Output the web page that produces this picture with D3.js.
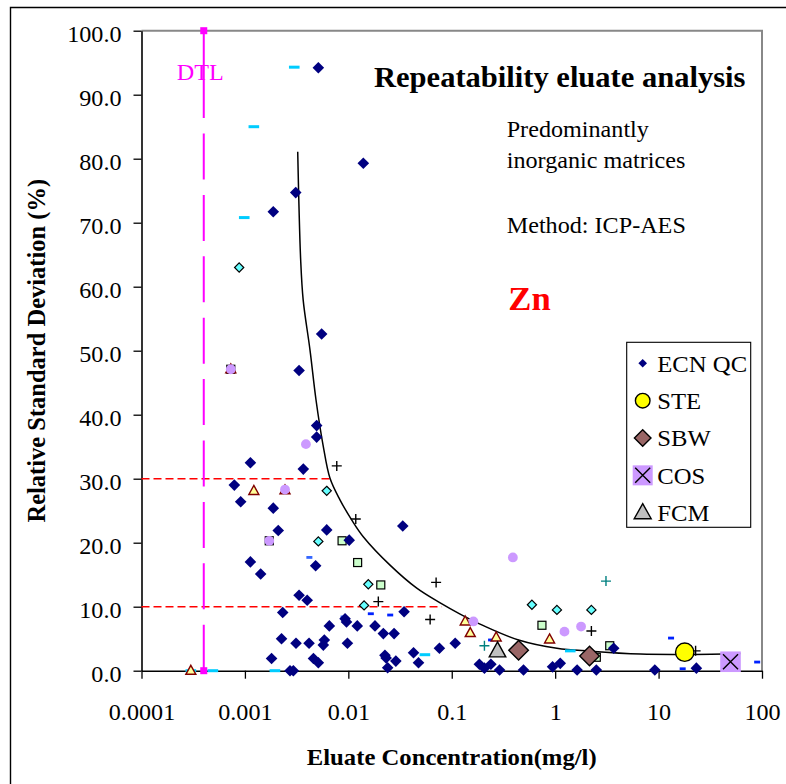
<!DOCTYPE html>
<html>
<head>
<meta charset="utf-8">
<script src="https://cdn.jsdelivr.net/npm/d3@7"></script>
<style>
  html, body { margin: 0; padding: 0; background: #fff; }
  svg { display: block; }
  text { font-family: "Liberation Serif", "Times New Roman", serif; }
</style>
</head>
<body>
<svg id="chart" width="786" height="784"></svg>
<script>
// ---------------- DATA ----------------
const xTicks = [0.0001, 0.001, 0.01, 0.1, 1, 10, 100];
const xTickLabels = ["0.0001", "0.001", "0.01", "0.1", "1", "10", "100"];
const yTicks = [0, 10, 20, 30, 40, 50, 60, 70, 80, 90, 100];

// legend series
const ecnQC = [
  [0.00513, 94.2], [0.01396, 79.3], [0.0031, 74.7], [0.00188, 71.7], [0.00552, 52.6],
  [0.00334, 46.9], [0.00494, 38.3], [0.00494, 36.5], [0.00113, 32.5], [0.00367, 31.5],
  [0.00079, 29.0], [0.00091, 26.4], [0.00188, 25.4], [0.00618, 22.0], [0.0021, 21.9],
  [0.0102, 20.4], [0.0336, 22.6], [0.00113, 17.0], [0.00483, 16.4], [0.00142, 15.1],
  [0.00334, 11.8], [0.0040, 11.0], [0.00232, 9.1], [0.0346, 9.2], [0.0093, 8.1],
  [0.0096, 7.6], [0.00655, 7.0], [0.0122, 7.0], [0.0181, 7.0], [0.0218, 5.8],
  [0.0277, 5.8], [0.00226, 5.0], [0.00312, 4.3], [0.00417, 4.3], [0.00586, 4.8],
  [0.00573, 4.0], [0.0098, 4.3], [0.00181, 1.9], [0.0046, 1.9], [0.00513, 1.25],
  [0.0226, 2.4], [0.0232, 2.0], [0.0288, 1.5], [0.024, 0.45], [0.0427, 2.8],
  [0.0477, 1.25], [0.076, 3.5], [0.108, 4.3], [0.00273, 0], [0.00294, 0],
  [0.185, 1.0], [0.207, 0.4], [0.239, 1.0], [0.29, 0.1], [0.494, 0.1],
  [0.944, 0.6], [1.12, 1.15], [1.63, 0.1], [2.5, 0.1], [3.68, 3.5],
  [9.2, 0.1], [23.2, 0.4]
];
const ste = [[17.9, 2.9]];
const sbw = [[0.443, 3.2], [2.15, 2.3]];
const cos = [[49.6, 1.4]];
const fcm = [[0.277, 3.1]];

// other (unlabelled) series
const cyanDash = [[0.003, 94.3], [0.00122, 85.0], [0.000985, 70.8], [0.0003, 0], [0.00049, 0],
  [0.00195, 0], [0.055, 2.5], [1.4, 3.1]];
const lightBlueDash = [[0.0042, 17.7], [0.009, 8.4]];
const blueDash = [[0.0165, 8.9], [0.0254, 8.7], [0.24, 4.8], [13.2, 5.1], [17.1, 0.3], [89.8, 1.35]];
const lavenderCircle = [[0.00073, 47.1], [0.00389, 35.4], [0.00244, 28.3], [0.00172, 20.3],
  [0.39, 17.7], [0.162, 7.7], [1.23, 6.1], [1.78, 6.9]];
const cyanDiamond = [[0.00088, 63.0], [0.00618, 28.1], [0.00513, 20.2], [0.0156, 13.5],
  [0.0142, 10.2], [0.596, 10.3], [1.04, 9.5], [2.24, 9.5]];
const greenSquare = [[0.00073, 47.1], [0.00172, 20.3], [0.0087, 20.3], [0.0123, 16.9],
  [0.0206, 13.4], [0.745, 7.1], [3.37, 3.9], [2.5, 2.1]];
const yellowTriangle = [[0.0003, 0], [0.00122, 28.1], [0.00244, 28.2], [0.00073, 47.1],
  [0.135, 7.7], [0.151, 5.9], [0.269, 5.2], [0.883, 4.9]];
const blackPlus = [[0.00773, 32.0], [0.0118, 23.7], [0.0195, 10.8], [0.0706, 13.8],
  [0.0618, 8.0], [2.24, 6.2], [22.8, 3.1]];
const tealPlus = [[0.207, 3.9], [3.1, 14.0]];

// reference lines
const dtlLine = [[0.0004, 0], [0.0004, 100]];
const limit30 = [[0.0001, 30], [0.0067, 30]];
const limit10 = [[0.0001, 10], [0.080, 10]];
// fitted curve
const fitCurve = [[0.00324, 81.1], [0.00346, 64.2], [0.00366, 57.9], [0.00426, 50.1],
  [0.00487, 42.3], [0.00569, 35.3], [0.00665, 30.06], [0.0083, 26.7], [0.01084, 23.5],
  [0.014, 20.9], [0.0253, 16.5], [0.0459, 12.9], [0.0773, 10.6], [0.1205, 8.85],
  [0.2, 7.08], [0.443, 4.8], [1.04, 3.5], [2.19, 3.05], [6.67, 2.6], [20.3, 2.55], [61.7, 2.7]];

const legendItems = ["ECN QC", "STE", "SBW", "COS", "FCM"];

// ---------------- CHART ----------------
const svg = d3.select("#chart");
const K = 1.05; // slight horizontal glyph stretch of the original
function stretch(sel, k) {
  sel.each(function () {
    const w = this.getComputedTextLength();
    this.setAttribute("textLength", w * k);
    this.setAttribute("lengthAdjust", "spacingAndGlyphs");
  });
}

const x = d3.scaleLog().domain([0.0001, 100]).range([141.5, 762]);
const y = d3.scaleLinear().domain([0, 100]).range([670.7, 30.7]);

// outer frame
svg.append("rect").attr("width", 786).attr("height", 784).attr("fill", "#fff");
svg.append("path").attr("d", "M10.5,790V7.5H790").attr("fill", "none").attr("stroke", "#000").attr("stroke-width", 1.4);

// plot border (top/right gray)
svg.append("path")
  .attr("d", `M${x(0.0001)},${y(100)}H${x(100)}V${y(0)}`)
  .attr("fill", "none").attr("stroke", "#888").attr("stroke-width", 2);

// axes
const yAxis = svg.append("g").attr("transform", `translate(${x(0.0001)},0)`)
  .call(d3.axisLeft(y).tickValues(yTicks).tickSize(8).tickSizeOuter(0).tickPadding(12)
    .tickFormat(d3.format(".1f")));
const xAxis = svg.append("g").attr("transform", `translate(0,${y(0)})`)
  .call(d3.axisBottom(x).tickValues(xTicks).tickSize(8).tickSizeOuter(0)
    .tickFormat((d, i) => xTickLabels[i]));
[yAxis, xAxis].forEach(a => {
  a.select(".domain").attr("stroke", "#000").attr("stroke-width", 1.6);
  a.selectAll(".tick line").attr("stroke", "#000").attr("stroke-width", 1.3);
  a.selectAll("text").attr("font-family", "Liberation Serif, Times New Roman, serif")
    .attr("font-size", 23).attr("fill", "#000");
});
yAxis.selectAll("text").attr("dy", "0.47em");
xAxis.selectAll("text").attr("y", 49).attr("dy", 0);
stretch(yAxis.selectAll("text"), K);
stretch(xAxis.selectAll("text"), K);

// axis titles
const xl = svg.append("text").attr("x", (x(0.0001) + x(100)) / 2).attr("y", 765)
  .attr("text-anchor", "middle").attr("font-weight", "bold").attr("font-size", 23.5)
  .text("Eluate Concentration(mg/l)");
stretch(xl, K);
svg.append("text").attr("transform", `translate(45,${(y(0) + y(100)) / 2}) rotate(-90)`)
  .attr("text-anchor", "middle").attr("font-weight", "bold").attr("font-size", 24.5)
  .text("Relative Standard Deviation (%)");

// annotations
const t1 = svg.append("text").attr("x", 374).attr("y", 86.7).attr("font-weight", "bold")
  .attr("font-size", 29.5).text("Repeatability eluate analysis");
stretch(t1, 1.035);
const notes = [["Predominantly", 136.7], ["inorganic matrices", 168.3], ["Method: ICP-AES", 232.7]];
notes.forEach(([s, yy]) => {
  const t = svg.append("text").attr("x", 506.7).attr("y", yy).attr("font-size", 23).text(s);
  stretch(t, K);
});
const zn = svg.append("text").attr("x", 508.3).attr("y", 310).attr("font-weight", "bold")
  .attr("font-size", 33).attr("fill", "#FF0000").text("Zn");
stretch(zn, K);

const line = d3.line().x(d => x(d[0])).y(d => y(d[1]));

// red dashed limits
[limit30, limit10].forEach(L => {
  svg.append("path").attr("d", line(L)).attr("fill", "none").attr("stroke", "#FF0000")
    .attr("stroke-width", 1.6).attr("stroke-dasharray", "8,4");
});

// DTL line
const dash = Array(9).fill("46,15.4").join(",") + ",300,0";
svg.append("path").attr("d", line(dtlLine)).attr("fill", "none").attr("stroke", "#FF00FF")
  .attr("stroke-width", 2).attr("stroke-dasharray", dash);
svg.selectAll(".dtlm").data(dtlLine).join("rect").attr("class", "dtlm")
  .attr("x", d => x(d[0]) - 3.5).attr("y", d => y(d[1]) - 3.5).attr("width", 7).attr("height", 7)
  .attr("fill", "#FF00FF");
const dtl = svg.append("text").attr("x", 176.7).attr("y", 80).attr("font-size", 23)
  .attr("fill", "#FF00FF").text("DTL");
stretch(dtl, K);

// fitted curve
svg.append("path")
  .attr("d", d3.line().x(d => x(d[0])).y(d => y(d[1])).curve(d3.curveCatmullRom.alpha(0.5))(fitCurve))
  .attr("fill", "none").attr("stroke", "#000").attr("stroke-width", 1.5);

// marker helpers
const diamondPath = h => `M0,${-h}L${h},0L0,${h}L${-h},0Z`;
const triPath = (w, h) => `M0,${-h * 0.6}L${w / 2},${h * 0.4}L${-w / 2},${h * 0.4}Z`;
function pts(data, cls) {
  return svg.selectAll("." + cls).data(data).join("g").attr("class", cls)
    .attr("transform", d => `translate(${x(d[0])},${y(d[1])})`);
}

// small series
pts(cyanDash, "cd").append("rect").attr("x", -5.3).attr("y", -1.5).attr("width", 10.6).attr("height", 3).attr("fill", "#00CCFF");
pts(lightBlueDash, "lbd").append("rect").attr("x", -3).attr("y", -1.4).attr("width", 6).attr("height", 2.8).attr("fill", "#3366FF");
pts(blueDash, "bd").append("rect").attr("x", -3).attr("y", -1.4).attr("width", 6).attr("height", 2.8).attr("fill", "#0022FF");
pts(greenSquare, "gs").append("rect").attr("x", -4).attr("y", -4).attr("width", 8).attr("height", 8)
  .attr("fill", "#CCFFCC").attr("stroke", "#000").attr("stroke-width", 1.2);
pts(yellowTriangle, "yt").append("path").attr("d", triPath(10, 9))
  .attr("fill", "#FFFF99").attr("stroke", "#800000").attr("stroke-width", 1.4);
pts(lavenderCircle, "lc").append("circle").attr("r", 4.9).attr("fill", "#CC99FF");
pts(cyanDiamond, "cyd").append("path").attr("d", diamondPath(4.6))
  .attr("fill", "#66FFFF").attr("stroke", "#000").attr("stroke-width", 1.2);
pts(blackPlus, "bp").append("path").attr("d", "M-5,0H5M0,-5V5").attr("stroke", "#000").attr("stroke-width", 1.4);
pts(tealPlus, "tp").append("path").attr("d", "M-5,0H5M0,-5V5").attr("stroke", "#008080").attr("stroke-width", 1.4);
pts(ecnQC, "ecn").append("path").attr("d", diamondPath(5.8)).attr("fill", "#000080");

// big series
pts(sbw, "sbw").append("path").attr("d", diamondPath(9.8)).attr("fill", "#996666").attr("stroke", "#000").attr("stroke-width", 1.4);
pts(fcm, "fcm").append("path").attr("d", triPath(16.5, 15)).attr("fill", "#C0C0C0").attr("stroke", "#000").attr("stroke-width", 1.4);
pts(ste, "ste").append("circle").attr("r", 9.2).attr("fill", "#FFFF00").attr("stroke", "#000").attr("stroke-width", 1.4);
const cg = pts(cos, "cos");
cg.append("rect").attr("x", -10.3).attr("y", -10.3).attr("width", 20.6).attr("height", 20.6).attr("fill", "#CC99FF");
cg.append("path").attr("d", "M-7.5,-7.5L7.5,7.5M7.5,-7.5L-7.5,7.5").attr("stroke", "#000").attr("stroke-width", 1.4);

// legend
const lg = svg.append("g");
lg.append("rect").attr("x", 626.7).attr("y", 342.3).attr("width", 124).attr("height", 185)
  .attr("fill", "#fff").attr("stroke", "#000").attr("stroke-width", 1.1);
const ly = d3.scalePoint().domain(legendItems).range([363.3, 512.7]);
const mx = 642.7;
const row = n => lg.append("g").attr("transform", `translate(${mx},${ly(n)})`);
row("ECN QC").append("path").attr("d", diamondPath(4.3)).attr("fill", "#000080");
row("STE").append("circle").attr("r", 7.3).attr("fill", "#FFFF00").attr("stroke", "#000").attr("stroke-width", 1.4);
row("SBW").append("path").attr("d", diamondPath(8.3)).attr("fill", "#996666").attr("stroke", "#000").attr("stroke-width", 1.4);
const lc = row("COS");
lc.append("rect").attr("x", -10).attr("y", -10).attr("width", 20).attr("height", 20).attr("fill", "#CC99FF");
lc.append("path").attr("d", "M-7.5,-7.5L7.5,7.5M7.5,-7.5L-7.5,7.5").attr("stroke", "#000").attr("stroke-width", 1.4);
row("FCM").append("path").attr("d", triPath(17, 15)).attr("fill", "#C0C0C0").attr("stroke", "#000").attr("stroke-width", 1.4);
legendItems.forEach(n => {
  const t = lg.append("text").attr("x", 657.3).attr("y", ly(n) + 8.4).attr("font-size", 23.5).text(n);
  stretch(t, K);
});
</script>
</body>
</html>
